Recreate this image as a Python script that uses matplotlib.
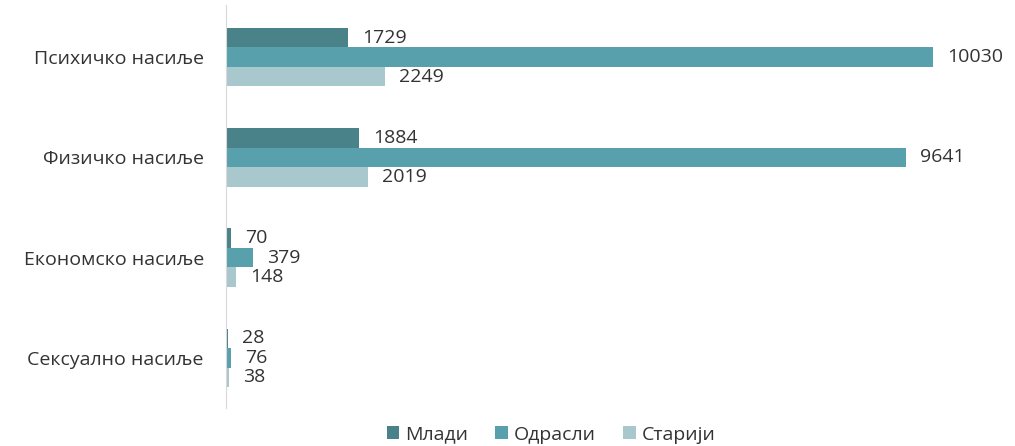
import numpy as np
import matplotlib.pyplot as plt

plt.rcParams['font.family'] = ['Open Sans', 'Noto Sans', 'DejaVu Sans']

categories = ['Психичко насиље', 'Физичко насиље', 'Економско насиље', 'Сексуално насиље']
series = ['Млади', 'Одрасли', 'Старији']
mladi = [1729, 1884, 70, 28]
odrasli = [10030, 9641, 379, 76]
stariji = [2249, 2019, 148, 38]
colors = ['#4a8289', '#58a0ab', '#a9c8cd']

fig = plt.figure(figsize=(10.15, 4.46), dpi=100)
ax = fig.add_axes([226 / 1015, 1 - 408 / 446, (1000 - 226) / 1015, 403 / 446])

y = np.arange(len(categories))
h = 0.195
for i, (vals, name, c) in enumerate(zip([mladi, odrasli, stariji], series, colors)):
    pos = y + (i - 1) * h
    bars = ax.barh(pos, vals, height=h, color=c, label=name)
    for b, v in zip(bars, vals):
        ax.text(v + 200, b.get_y() + h / 2, str(v), va='center', ha='left',
                fontsize=14, color='#333333')

ax.set_ylim(3.5, -0.52)
ax.set_xlim(0, 10980)
ax.set_yticks(y)
ax.set_yticklabels(categories, fontsize=14, color='#333333')
ax.set_xticks([])
ax.tick_params(axis='y', length=0, pad=16)
for s in ['top', 'right', 'bottom']:
    ax.spines[s].set_visible(False)
ax.spines['left'].set_color('#d9d9d9')

ax.legend(loc='upper center', bbox_to_anchor=(0.42, 0.0), ncol=3,
          frameon=False, fontsize=14, handlelength=0.65, handleheight=0.65,
          handletextpad=0.3, columnspacing=1.4, labelcolor='#333333')

fig.savefig('out.png', dpi=100)
